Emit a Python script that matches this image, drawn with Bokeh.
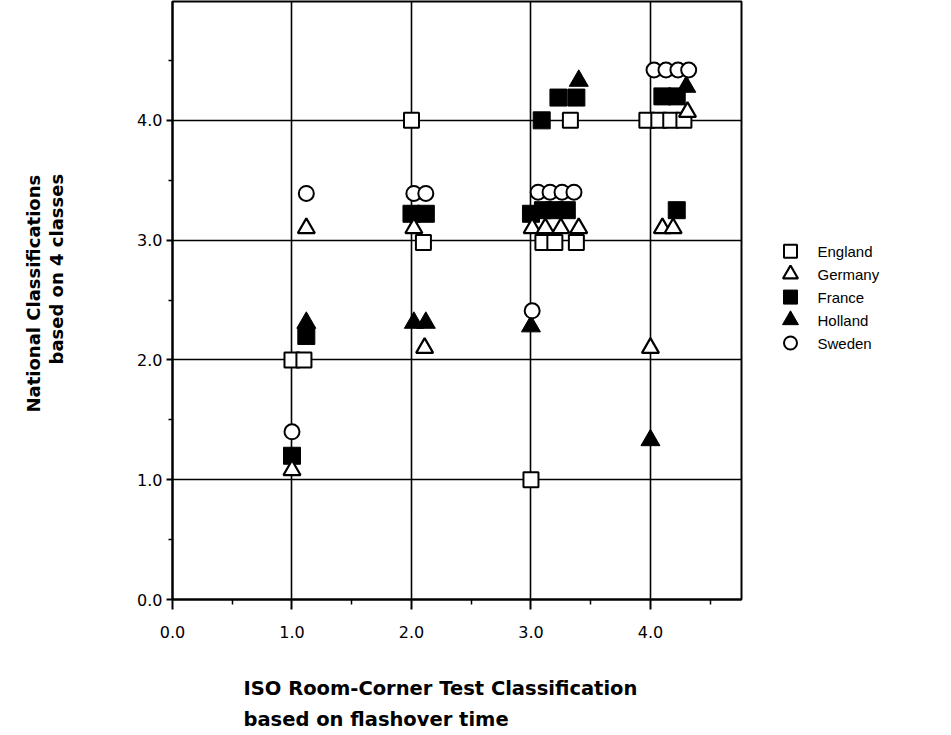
import math
from bokeh.plotting import figure
from bokeh.models import FixedTicker, NumeralTickFormatter, Range1d, Title
from bokeh.layouts import row
from bokeh.embed import file_html
from bokeh.resources import INLINE
from bokeh.core.properties import value

countries = ["England", "Germany", "France", "Holland", "Sweden"]

england_x = [1.0, 1.1, 2.0, 2.1, 3.0, 3.1, 3.2, 3.38, 3.33, 3.97, 4.07, 4.17, 4.28]
england_y = [2.0, 2.0, 4.0, 2.98, 1.0, 2.98, 2.98, 2.98, 4.0, 4.0, 4.0, 4.0, 4.0]
germany_x = [1.0, 1.12, 2.02, 2.11, 3.01, 3.12, 3.25, 3.4, 4.0, 4.1, 4.19, 4.31]
germany_y = [1.08, 3.1, 3.1, 2.1, 3.1, 3.1, 3.1, 3.1, 2.1, 3.1, 3.1, 4.07]
france_x = [1.0, 1.12, 2.0, 2.12, 3.0, 3.1, 3.2, 3.3, 3.09, 3.23, 3.38, 4.1, 4.22, 4.22]
france_y = [1.2, 2.2, 3.22, 3.22, 3.22, 3.25, 3.25, 3.25, 4.0, 4.19, 4.19, 4.2, 4.2, 3.25]
holland_x = [1.12, 2.02, 2.12, 3.0, 3.4, 4.0, 4.3]
holland_y = [2.31, 2.31, 2.31, 2.28, 4.33, 1.33, 4.28]
sweden_x = [1.0, 1.12, 2.02, 2.12, 3.01, 3.06, 3.16, 3.26, 3.36, 4.03, 4.13, 4.23, 4.32]
sweden_y = [1.4, 3.39, 3.39, 3.39, 2.41, 3.4, 3.4, 3.4, 3.4, 4.42, 4.42, 4.42, 4.42]

major_ticks = [0, 1, 2, 3, 4]
minor_ticks = [0.5, 1.5, 2.5, 3.5, 4.5]
grid_ticks = [1, 2, 3, 4]

x_label_lines = ["ISO  Room-Corner  Test  Classification", "based  on  flashover  time"]
y_label_lines = ["National  Classifications", "based  on  4  classes"]

HAS_STANDOFF = "standoff" in Title.properties()

p = figure(width=751, height=733, output_backend="svg", toolbar_location=None,
           x_range=Range1d(0, 4.762), y_range=Range1d(0, 4.992),
           min_border_left=172, min_border_right=10, min_border_top=1,
           min_border_bottom=133)
p.outline_line_color = "black"
p.outline_line_width = 2
p.background_fill_color = "white"
p.border_fill_color = "white"

for ax in (p.xaxis[0], p.yaxis[0]):
    ax.ticker = FixedTicker(ticks=major_ticks, minor_ticks=minor_ticks)
    ax.formatter = NumeralTickFormatter(format="0.0")
    ax.axis_line_color = "black"
    ax.axis_line_width = 2
    ax.major_tick_line_color = "black"
    ax.major_tick_line_width = 2
    ax.minor_tick_line_color = "black"
    ax.minor_tick_line_width = 1.5
    ax.major_tick_in = 0
    ax.minor_tick_in = 0
    ax.major_label_text_font = "DejaVu Sans"
    ax.major_label_text_font_size = "16px"
    ax.major_label_text_color = "black"

p.xaxis[0].major_tick_out = 10
p.xaxis[0].minor_tick_out = 5
p.xaxis[0].major_label_standoff = 16
p.yaxis[0].major_tick_out = 6
p.yaxis[0].minor_tick_out = 4
p.yaxis[0].major_label_standoff = 4

p.xgrid.ticker = FixedTicker(ticks=grid_ticks)
p.ygrid.ticker = FixedTicker(ticks=grid_ticks)
for g in (p.xgrid[0], p.ygrid[0]):
    g.grid_line_color = "black"
    g.grid_line_width = 1.6
    g.grid_line_alpha = 1.0

# data markers
p.scatter(france_x, france_y, marker="square", size=17, fill_color="black",
          line_color="black", line_width=1)
p.scatter(holland_x, holland_y, marker="triangle", size=19, fill_color="black",
          line_color="black", line_width=1)
p.scatter(england_x, england_y, marker="square", size=15, fill_color="white",
          line_color="black", line_width=2)
p.scatter(germany_x, germany_y, marker="triangle", size=17, fill_color="white",
          line_color="black", line_width=2.2)
p.scatter(sweden_x, sweden_y, marker="circle", size=15, fill_color="white",
          line_color="black", line_width=2)


def make_title(txt, size, align="left", offset=0, standoff=None, bold=True):
    t = Title(text=txt, align=align, offset=offset, text_font="DejaVu Sans",
              text_font_style="bold" if bold else "normal",
              text_font_size=size, text_color="black")
    if HAS_STANDOFF and standoff is not None:
        t.standoff = standoff
    return t


# x-axis title: two left-aligned lines below the axis
p.add_layout(make_title(" ", "16px", standoff=10), "below")
p.add_layout(make_title(x_label_lines[0], "19.5px", offset=71, standoff=6), "below")
p.add_layout(make_title(x_label_lines[1], "19.5px", offset=71, standoff=6), "below")

# y-axis title: two rotated lines left of the axis (offset measured from frame bottom)
p.add_layout(make_title(" ", "48px", standoff=10), "left")
p.add_layout(make_title(y_label_lines[1], "18px", align="left", offset=235,
                        standoff=0), "left")
p.add_layout(make_title(y_label_lines[0], "18px", align="left", offset=187,
                        standoff=0), "left")

# legend panel as a separate figure sharing the y scale
lg = figure(width=192, height=733, output_backend="svg", toolbar_location=None,
            x_range=Range1d(0, 192), y_range=p.y_range,
            x_axis_type=None, y_axis_type=None,
            min_border_left=0, min_border_right=0, min_border_top=1,
            min_border_bottom=133)
lg.outline_line_color = None
lg.xgrid.visible = False
lg.ygrid.visible = False

leg_top = 2.908
leg_pitch = 0.1917
leg_y = [leg_top - i * leg_pitch for i in range(len(countries))]
mx = 39
styles = [("square", 13, "white", 2), ("triangle", 15, "white", 2.2),
          ("square", 14, "black", 1), ("triangle", 16, "black", 1),
          ("circle", 13, "white", 2)]
for yy, (mk, sz, fc, lw) in zip(leg_y, styles):
    lg.scatter([mx], [yy], marker=mk, size=sz, fill_color=fc,
               line_color="black", line_width=lw)
lg.text(x=[66] * len(countries), y=leg_y, text=countries,
        text_font=value("Liberation Sans"), text_font_size="15px",
        text_baseline="middle", text_align="left", text_color="black")

layout = row(p, lg)
open("out.html", "w").write(file_html(layout, INLINE))
